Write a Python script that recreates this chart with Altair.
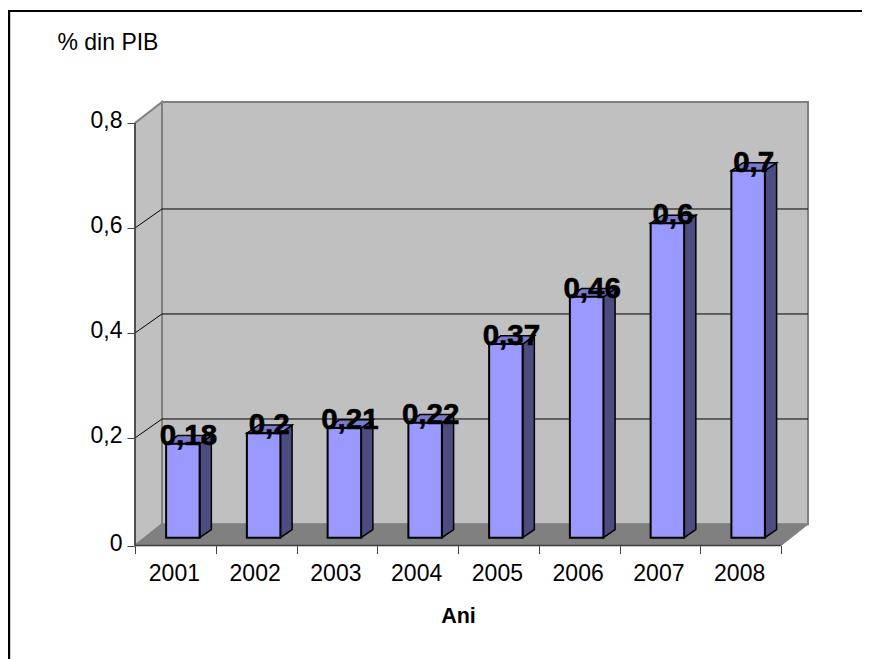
import altair as alt
import pandas as pd

years = ["2001", "2002", "2003", "2004", "2005", "2006", "2007", "2008"]
values = [0.18, 0.2, 0.21, 0.22, 0.37, 0.46, 0.6, 0.7]
labels = ["0,18", "0,2", "0,21", "0,22", "0,37", "0,46", "0,6", "0,7"]
y_ticks = [0, 0.2, 0.4, 0.6, 0.8]
grid_values = [0.2, 0.4, 0.6]

# 3-D box geometry, in data units
N = len(years)
WALL_DX = 27 / 80.75
FLOOR_FRONT = -0.005
FLOOR_BACK = 0.0356
GRID_DY = 0.0362
WALL_TOP_FRONT = 0.8
WALL_TOP_BACK = 0.84
BAR_W = 0.415
BAR_SHIFT = 0.093
BAR_DX = 0.145
BAR_DY = 0.0155
BASE = 0.0101
TOP = 0.009
XMAX = N + WALL_DX

sx = alt.Scale(domain=[0, XMAX], nice=False, zero=False)
sy = alt.Scale(domain=[FLOOR_FRONT, WALL_TOP_BACK], nice=False, zero=False)
x_axis = alt.Axis(
    values=list(range(N + 1)), labels=False, domain=False, grid=False,
    tickSize=8, tickColor="#404040", tickWidth=1,
    title="Ani", titleFont="Liberation Sans", titleFontSize=21.5,
    titleFontWeight="bold", titleColor="black", titleX=323, titleY=77,
    titleBaseline="alphabetic",
)
y_axis = alt.Axis(
    values=[FLOOR_FRONT] + y_ticks[1:], domain=False, grid=False, tickSize=8,
    tickColor="#404040", tickWidth=1, labelFont="Liberation Sans", labelFontSize=23,
    labelColor="black", labelPadding=5, labelOffset=-2,
    labelExpr="datum.value <= 0 ? '0' : replace(format(datum.value, '.1f'), '.', ',')",
    title="% din PIB", titleAngle=0, titleFont="Liberation Sans", titleFontSize=23,
    titleFontWeight="normal", titleColor="black", titleAlign="left",
    titleBaseline="alphabetic", titleX=-78, titleY=-52,
)
X = alt.X("x:Q", scale=sx, axis=x_axis)
Y = alt.Y("y:Q", scale=sy, axis=y_axis)
Y2 = alt.Y2("y2:Q")


def area(rows, fill, stroke, width):
    return alt.Chart(pd.DataFrame(rows)).mark_area(
        fill=fill, stroke=stroke, strokeWidth=width, clip=False, opacity=1
    ).encode(x=X, y=Y, y2=Y2, detail="g:N")


# walls and floor
back_wall = alt.Chart(pd.DataFrame([dict(x=WALL_DX, x2=XMAX, y=FLOOR_BACK, y2=WALL_TOP_BACK)])).mark_rect(
    fill="#C0C0C0", stroke="#808080", strokeWidth=2
).encode(x=X, x2="x2:Q", y=Y, y2=Y2)
left_wall = area(
    [dict(g="w", x=0, y=FLOOR_FRONT, y2=WALL_TOP_FRONT),
     dict(g="w", x=WALL_DX, y=FLOOR_BACK, y2=WALL_TOP_BACK)],
    "#C0C0C0", "#808080", 2,
)
floor = area(
    [
        dict(g="f", x=0, y=FLOOR_FRONT, y2=FLOOR_FRONT),
        dict(g="f", x=WALL_DX, y=FLOOR_BACK, y2=FLOOR_FRONT),
        dict(g="f", x=N, y=FLOOR_BACK, y2=FLOOR_FRONT),
        dict(g="f", x=XMAX, y=FLOOR_BACK, y2=FLOOR_BACK),
    ],
    "#808080", "#808080", 1,
)

# grid lines: diagonal on the side wall, horizontal on the back wall
grid_rows = []
for v in grid_values:
    grid_rows += [
        dict(g=v, x=0, y=v),
        dict(g=v, x=WALL_DX, y=v + GRID_DY),
        dict(g=v, x=XMAX, y=v + GRID_DY),
    ]
grid = alt.Chart(pd.DataFrame(grid_rows)).mark_line(color="black", strokeWidth=1).encode(
    x=X, y=Y, detail="g:N"
)

# axis lines
axis_y = alt.Chart(pd.DataFrame([dict(x=0, y=FLOOR_FRONT, y2=WALL_TOP_FRONT)])).mark_rule(
    color="#404040", strokeWidth=1.5
).encode(x=X, y=Y, y2=Y2)
axis_x = alt.Chart(pd.DataFrame([dict(x=0, x2=N, y=FLOOR_FRONT)])).mark_rule(
    color="#404040", strokeWidth=1.5
).encode(x=X, x2="x2:Q", y=Y)

# bars
front_rows, side_rows, top_rows, label_rows = [], [], [], []
for i, (year, v, lab) in enumerate(zip(years, values, labels)):
    x0 = i + 0.5 + BAR_SHIFT - BAR_W / 2
    x1 = x0 + BAR_W
    t = v + TOP
    front_rows.append(dict(x=x0, x2=x1, y=BASE, y2=t))
    side_rows += [
        dict(g=year, x=x1, y=BASE, y2=t),
        dict(g=year, x=x1 + BAR_DX, y=BASE + BAR_DY, y2=t + BAR_DY),
    ]
    top_rows += [
        dict(g=year, x=x0, y=t, y2=t),
        dict(g=year, x=x0 + BAR_DX, y=t, y2=t + BAR_DY),
        dict(g=year, x=x1, y=t, y2=t + BAR_DY),
        dict(g=year, x=x1 + BAR_DX, y=t + BAR_DY, y2=t + BAR_DY),
    ]
    label_rows.append(dict(x=i + 0.5 + BAR_SHIFT, y=t, text=lab))

front = alt.Chart(pd.DataFrame(front_rows)).mark_rect(
    fill="#9999FF", stroke="black", strokeWidth=2
).encode(x=X, x2="x2:Q", y=Y, y2=Y2)
side = area(side_rows, "#4C4C80", "black", 1.5)
top = area(top_rows, "#7A7ACC", "black", 1.5)

data_labels = alt.Chart(pd.DataFrame(label_rows)).mark_text(
    font="Liberation Sans", fontSize=29.5, fontWeight="bold", color="black",
    stroke="black", strokeWidth=0.6,
    baseline="alphabetic", align="center", dx=5.5, dy=1,
).encode(x=X, y=Y, text="text:N")

year_labels = alt.Chart(pd.DataFrame(
    [dict(x=i + 0.5, y=0, text=y) for i, y in enumerate(years)]
)).mark_text(
    font="Liberation Sans", fontSize=23, color="black",
    baseline="alphabetic", align="center", dx=-1, dy=38,
).encode(x=X, y=Y, text="text:N")

# outer frame of the figure
frame_top = alt.Chart(pd.DataFrame([dict(k=1)])).mark_rule(color="black", strokeWidth=2.2).encode(
    x=alt.value(-127), x2=alt.value(727), y=alt.value(-91)
)
frame_left = alt.Chart(pd.DataFrame([dict(k=1)])).mark_rule(color="black", strokeWidth=2.4).encode(
    x=alt.value(-126), y=alt.value(-92), y2=alt.value(560)
)

chart = alt.layer(
    back_wall, left_wall, floor, grid, axis_y, axis_x,
    side, top, front, data_labels, year_labels, frame_top, frame_left,
).properties(
    width=673,
    height=443.6,
    padding={"left": 127, "top": 94, "right": 54, "bottom": 113},
    autosize=alt.AutoSizeParams(type="none"),
    background="white",
).configure_view(strokeWidth=0)

chart.save("out.html", embed_options={"renderer": "svg", "actions": False})
